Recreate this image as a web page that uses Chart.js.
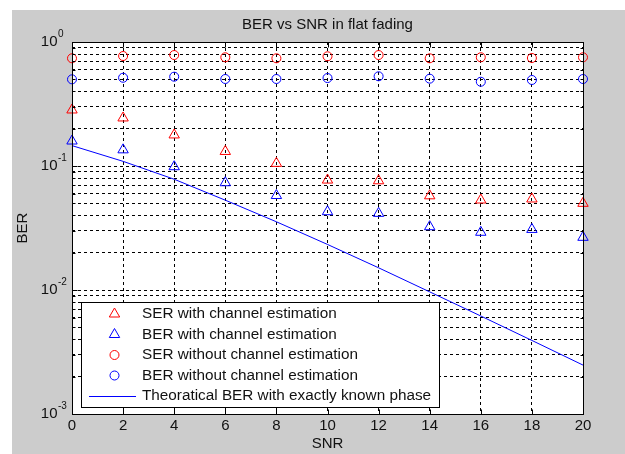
<!DOCTYPE html>
<html>
<head>
<meta charset="utf-8">
<script src="https://cdn.jsdelivr.net/npm/chart.js@4/dist/chart.umd.min.js"></script>
<style>
  html, body { margin: 0; padding: 0; background: #fff; }
  #wrap { width: 625px; height: 454px; position: relative; }
</style>
</head>
<body>
<div id="wrap"><canvas id="berChart" width="625" height="454"></canvas></div>
<script>
// values
const snr = [0, 2, 4, 6, 8, 10, 12, 14, 16, 18, 20];
const serWithEst = [0.283, 0.244, 0.178, 0.131, 0.105, 0.077, 0.076, 0.0575, 0.0532, 0.0542, 0.050];
const berWithEst = [0.159, 0.135, 0.0987, 0.0733, 0.0578, 0.0428, 0.0415, 0.0324, 0.0292, 0.0308, 0.0266];
const serNoEst = [0.739, 0.771, 0.785, 0.753, 0.739, 0.767, 0.785, 0.739, 0.753, 0.743, 0.753];
const berNoEst = [0.500, 0.515, 0.525, 0.503, 0.503, 0.512, 0.529, 0.506, 0.478, 0.494, 0.503];
const berTheory = [0.146, 0.109, 0.0782, 0.0530, 0.0355, 0.0233, 0.0151, 0.00966, 0.00617, 0.00392, 0.00248];

const xTickValues = [0, 2, 4, 6, 8, 10, 12, 14, 16, 18, 20];
const yDecades = [0.001, 0.01, 0.1, 1];
const yExponents = ['-3', '-2', '-1', '0'];
const yMantissas = [1, 2, 3, 4, 5, 6, 7, 8, 9];

const legendLabels = [
    'SER with channel estimation',
    'BER with channel estimation',
    'SER without channel estimation',
    'BER without channel estimation',
    'Theoratical BER with exactly known phase'
];

const FONT = "'Liberation Sans', Arial, Helvetica, sans-serif";
const RED = '#ff0000';
const BLUE = '#0000ff';

// all grid positions on the log axis: 1..9 x each decade, up to 10^0
const yTickValues = [];
yDecades.forEach(d => {
    yMantissas.forEach(m => {
        const v = +(d * m).toPrecision(3);
        if (v <= 1) yTickValues.push(v);
    });
});

const toPoints = (ys) => snr.map((x, i) => ({ x: x, y: ys[i] }));

const matlabAxes = {
    id: 'matlabAxes',
    beforeDraw(chart) {
        const { ctx, chartArea: a } = chart;
        ctx.save();
        ctx.fillStyle = '#ffffff';
        ctx.fillRect(0, 0, chart.width, chart.height);
        ctx.fillStyle = '#cccccc';
        ctx.fillRect(12, 10, chart.width - 12, chart.height - 10);
        ctx.fillStyle = '#ffffff';
        ctx.fillRect(a.left, a.top, a.right - a.left, a.bottom - a.top);
        ctx.restore();
    },
    afterDatasetsDraw(chart) {
        const { ctx, chartArea: a, scales } = chart;
        const L = Math.round(a.left) + 0.5, R = Math.round(a.right) + 0.5;
        const T = Math.round(a.top) + 0.5, B = Math.round(a.bottom) + 0.5;
        ctx.save();
        ctx.strokeStyle = '#000';
        ctx.lineWidth = 1;
        ctx.setLineDash([]);
        ctx.beginPath();
        // x ticks, inward, bottom and top
        xTickValues.forEach(v => {
            const px = Math.round(scales.x.getPixelForValue(v)) + 0.5;
            ctx.moveTo(px, B); ctx.lineTo(px, B - 5);
            ctx.moveTo(px, T); ctx.lineTo(px, T + 5);
        });
        // y ticks, inward, left and right
        yTickValues.forEach(v => {
            const py = Math.round(scales.y.getPixelForValue(v)) + 0.5;
            const len = yDecades.includes(v) ? 5 : 3;
            ctx.moveTo(L, py); ctx.lineTo(L + len, py);
            ctx.moveTo(R, py); ctx.lineTo(R - len, py);
        });
        ctx.stroke();
        ctx.strokeRect(L, T, R - L, B - T);
        ctx.restore();
    },
    afterDraw(chart) {
        const { ctx, scales } = chart;
        ctx.save();
        // y tick labels as 10 with superscript exponent
        ctx.fillStyle = '#111';
        ctx.textBaseline = 'middle';
        yDecades.forEach((v, i) => {
            const py = scales.y.getPixelForValue(v);
            ctx.font = '15px ' + FONT;
            ctx.textAlign = 'right';
            ctx.fillText('10', 57.5, py);
            ctx.font = '10px ' + FONT;
            ctx.textAlign = 'left';
            ctx.fillText(yExponents[i], 58, py - 8);
        });

        // legend box
        const box = { l: 81.5, t: 302.5, r: 439.5, b: 407.5 };
        ctx.fillStyle = '#fff';
        ctx.fillRect(box.l, box.t, box.r - box.l, box.b - box.t);
        ctx.strokeStyle = '#000';
        ctx.lineWidth = 1;
        ctx.strokeRect(box.l, box.t, box.r - box.l, box.b - box.t);

        const rowY = [314, 334.5, 355, 375.5, 396];
        chart.data.datasets.forEach((ds, i) => {
            const y = rowY[i];
            ctx.strokeStyle = ds.borderColor;
            ctx.lineWidth = ds.borderWidth;
            if (ds.showLine === false) {
                ctx.fillStyle = 'rgba(0,0,0,0)';
                Chart.helpers.drawPoint(ctx, {
                    pointStyle: ds.pointStyle,
                    radius: ds.pointRadius,
                    borderWidth: ds.borderWidth,
                    rotation: 0
                }, 114.5, y);
            } else {
                ctx.beginPath();
                ctx.moveTo(89, Math.round(y) + 0.5);
                ctx.lineTo(136, Math.round(y) + 0.5);
                ctx.stroke();
            }
            ctx.fillStyle = '#111';
            ctx.font = '15.3px ' + FONT;
            ctx.textAlign = 'left';
            ctx.textBaseline = 'middle';
            ctx.fillText(ds.label, 142, y);
        });
        ctx.restore();
    }
};

const markerSet = (label, data, color, style, radius) => ({
    label: label,
    data: toPoints(data),
    showLine: false,
    pointStyle: style,
    pointRadius: radius,
    pointHoverRadius: radius,
    pointBorderWidth: 1,
    borderWidth: 1,
    borderColor: color,
    pointBorderColor: color,
    backgroundColor: 'rgba(0,0,0,0)',
    pointBackgroundColor: 'rgba(0,0,0,0)',
    clip: false
});

const ctx = document.getElementById('berChart').getContext('2d');
new Chart(ctx, {
    type: 'scatter',
    data: {
        datasets: [
            markerSet(legendLabels[0], serWithEst, RED, 'triangle', 6),
            markerSet(legendLabels[1], berWithEst, BLUE, 'triangle', 6),
            markerSet(legendLabels[2], serNoEst, RED, 'circle', 4.5),
            markerSet(legendLabels[3], berNoEst, BLUE, 'circle', 4.5),
            {
                label: legendLabels[4],
                data: toPoints(berTheory),
                showLine: true,
                borderColor: BLUE,
                borderWidth: 1,
                pointRadius: 0,
                tension: 0,
                fill: false
            }
        ]
    },
    options: {
        responsive: false,
        animation: false,
        events: [],
        layout: { padding: { left: 0, top: 0, right: 42, bottom: 0 } },
        plugins: {
            legend: { display: false },
            tooltip: { enabled: false },
            title: {
                display: true,
                text: 'BER vs SNR in flat fading',
                fullSize: false,
                color: '#111',
                font: { family: FONT, size: 15, weight: 'normal', lineHeight: 1.2 },
                padding: { top: 15.5, bottom: 8.5 }
            }
        },
        scales: {
            x: {
                type: 'linear',
                min: 0,
                max: 20,
                afterFit: (s) => { s.height = 40; },
                afterBuildTicks: (s) => { s.ticks = xTickValues.map(v => ({ value: v })); },
                ticks: {
                    autoSkip: false,
                    maxRotation: 0,
                    padding: 3,
                    color: '#111',
                    font: { family: FONT, size: 15, lineHeight: 1.2 },
                    callback: (v) => String(v)
                },
                grid: { color: '#000', lineWidth: 1, drawTicks: false },
                border: { display: false, dash: [3, 3] },
                title: {
                    display: true,
                    text: 'SNR',
                    color: '#111',
                    font: { family: FONT, size: 15, lineHeight: 1.2 },
                    padding: { top: 0, bottom: 1 }
                }
            },
            y: {
                type: 'logarithmic',
                min: 0.001,
                max: 1,
                afterFit: (s) => { s.width = 72; },
                afterBuildTicks: (s) => { s.ticks = yTickValues.map(v => ({ value: v })); },
                ticks: { display: false },
                grid: { color: '#000', lineWidth: 1, drawTicks: false },
                border: { display: false, dash: [3, 3] },
                title: {
                    display: true,
                    text: 'BER',
                    color: '#111',
                    font: { family: FONT, size: 15, lineHeight: 1.2 },
                    padding: { top: 14, bottom: 0 }
                }
            }
        }
    },
    plugins: [matlabAxes]
});
</script>
</body>
</html>
